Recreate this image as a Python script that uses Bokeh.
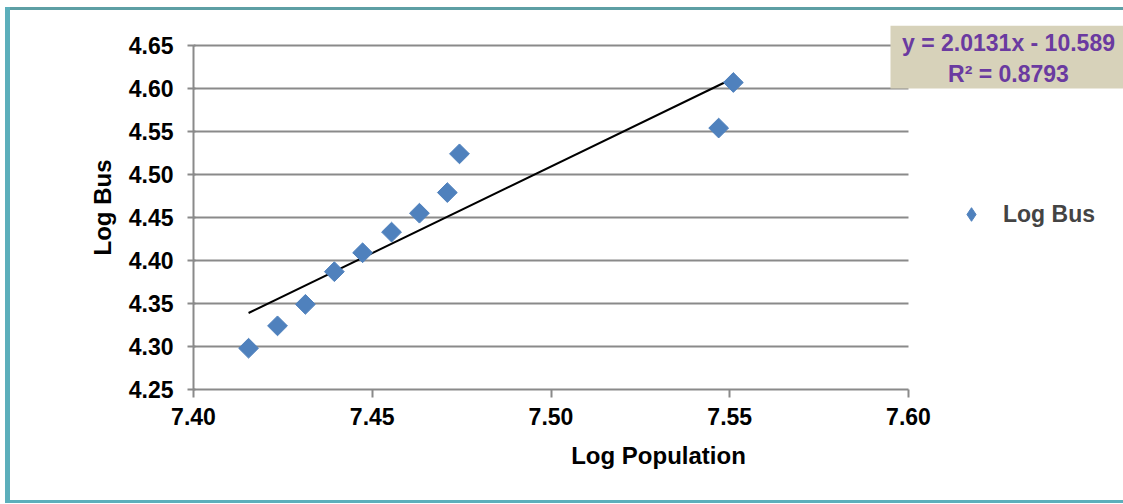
import numpy as np
from bokeh.plotting import figure
from bokeh.models import (FixedTicker, NumeralTickFormatter, BoxAnnotation, Label,
                          Legend, LegendItem, InlineStyleSheet)
from bokeh.embed import file_html
from bokeh.resources import INLINE

# ---- data ----
log_population = [7.4154, 7.4235, 7.4313, 7.4394, 7.4473, 7.4554, 7.4632, 7.4710, 7.4744, 7.5469, 7.5510]
log_bus = [4.298, 4.324, 4.349, 4.387, 4.409, 4.433, 4.455, 4.479, 4.524, 4.554, 4.607]
trend_slope = 2.0131
trend_intercept = -10.589
r_squared = 0.8793
x_ticks = [7.40, 7.45, 7.50, 7.55, 7.60]
y_ticks = [4.25, 4.30, 4.35, 4.40, 4.45, 4.50, 4.55, 4.60, 4.65]
series_name = "Log Bus"
x_title = "Log Population"
y_title = "Log Bus"

FONT = "Liberation Sans"
BLUE = "#4f81bd"
GRID = "#8a8a8a"

# axis extents; the plotting frame is widened to the right/top so that the
# legend and the equation box (which sit outside the axes) can be drawn
X0, X1 = x_ticks[0], x_ticks[-1]
Y0, Y1 = y_ticks[0], y_ticks[-1]
X_END = X0 + (X1 - X0) * 930 / 715
Y_END = Y0 + (Y1 - Y0) * 364 / 344

p = figure(width=1123, height=504, x_range=(X0, X_END), y_range=(Y0, Y_END),
           output_backend="svg", toolbar_location=None,
           min_border_left=193, min_border_right=0, min_border_top=25, min_border_bottom=115,
           background_fill_color=None, border_fill_color=None)
p.outline_line_color = None
# teal frame around the whole chart, drawn as the host's background
p.stylesheets = [InlineStyleSheet(css="""
:host {
  background-color: white;
  background-image: linear-gradient(#5cafbb, #5cafbb), linear-gradient(#5d9fa4, #5d9fa4),
                    linear-gradient(#5cafbb, #5cafbb);
  background-repeat: no-repeat;
  background-size: 5px 496px, 1118px 3px, 1118px 3px;
  background-position: 5px 7px, 5px 7px, 5px 500px;
}
""")]

for ax in (p.xaxis[0], p.yaxis[0]):
    ax.axis_line_color = GRID
    ax.axis_line_width = 2
    ax.major_tick_line_color = GRID
    ax.major_tick_line_width = 2
    ax.minor_tick_line_color = None
    ax.major_label_text_font = FONT
    ax.major_label_text_font_style = "bold"
    ax.major_label_text_font_size = "23px"
    ax.major_label_text_color = "black"
    ax.axis_label_text_font = FONT
    ax.axis_label_text_font_style = "bold"
    ax.axis_label_text_font_size = "24px"
    ax.axis_label_text_color = "black"

p.xaxis.ticker = FixedTicker(ticks=x_ticks)
p.yaxis.ticker = FixedTicker(ticks=y_ticks)
p.xaxis.bounds = (X0, X1)
p.yaxis.bounds = (Y0, Y1)
p.xaxis.formatter = NumeralTickFormatter(format="0.00")
p.yaxis.formatter = NumeralTickFormatter(format="0.00")
p.xaxis.axis_label = x_title
p.yaxis.axis_label = y_title
p.xaxis.major_tick_out = 8
p.xaxis.major_tick_in = 0
p.yaxis.major_tick_out = 6
p.yaxis.major_tick_in = 2
p.xaxis.major_label_standoff = 10
p.yaxis.major_label_standoff = 14
p.xaxis.axis_label_standoff = 14
p.yaxis.axis_label_standoff = 10

p.xgrid.grid_line_color = None
p.ygrid.grid_line_color = GRID
p.ygrid.grid_line_width = 2
p.ygrid.bounds = (Y0, Y1)
p.ygrid.cross_bounds = (X0, X1)

xs = [min(log_population), max(log_population)]
ys = [trend_slope * v + trend_intercept for v in xs]
p.line(xs, ys, line_color="black", line_width=2)

# legend proxy (hidden under the first marker)
proxy = p.scatter(log_population[:1], log_bus[:1], marker="diamond", size=1,
                  fill_color=BLUE, line_color=BLUE)
p.scatter(log_population, log_bus, marker="square", angle=np.pi / 4, size=14,
          fill_color=BLUE, line_color=BLUE)

legend = Legend(items=[LegendItem(label=series_name, renderers=[proxy])],
                location=(761, 158), padding=0, spacing=0,
                label_text_font=FONT, label_text_font_size="23px",
                label_text_font_style="bold",
                border_line_color=None, background_fill_alpha=0,
                glyph_width=34, glyph_height=34, label_standoff=15)
p.add_layout(legend)

p.add_layout(BoxAnnotation(left=890, right=1123, top=25, bottom=88,
                           left_units="canvas", right_units="canvas",
                           top_units="canvas", bottom_units="canvas",
                           fill_color="#d7d2ba", fill_alpha=1, line_color=None,
                           level="overlay"))
eq1 = f"y = {trend_slope:.4f}x - {abs(trend_intercept):.3f}"
eq2 = f"R² = {r_squared:.4f}"
for txt, yy in ((eq1, 42), (eq2, 73)):
    p.add_layout(Label(x=1008, y=yy, x_units="canvas", y_units="canvas", text=txt,
                       text_align="center", text_baseline="middle",
                       text_font=FONT, text_font_style="bold", text_font_size="23px",
                       text_color="#6a3aa0", level="overlay"))

open("out.html", "w").write(file_html(p, INLINE))
